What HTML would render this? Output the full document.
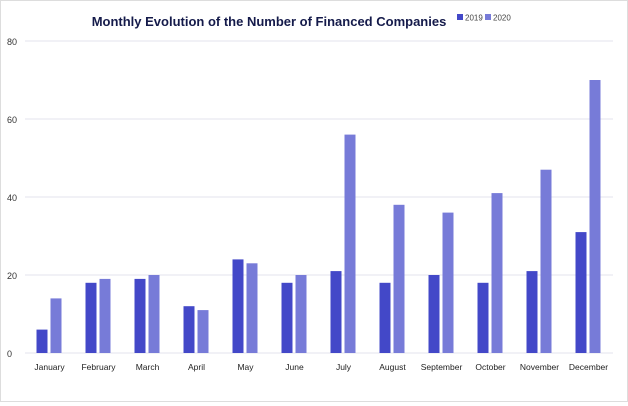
<!DOCTYPE html>
<html><head><meta charset="utf-8"><style>
body{margin:0;background:#fff;font-family:"Liberation Sans",sans-serif}
#c{position:absolute;left:0;top:0;width:626px;height:400px;border:1px solid #ddd;background:#fff}
</style></head><body>
<div id="c">
<svg id="s" width="626" height="400"></svg>
</div>
<script>
const months=["January","February","March","April","May","June","July","August","September","October","November","December"];
const s2019=[6,18,19,12,24,18,21,18,20,18,21,31];
const s2020=[14,19,20,11,23,20,56,38,36,41,47,70];
const yTicks=[0,20,40,60,80];
const NS="http://www.w3.org/2000/svg";
const svg=document.getElementById('s');
const x0=24,x1=612,y0=352,y1=40;
const band=(x1-x0)/months.length;
const y=v=>y0-(v/80)*(y0-y1);
function mk(t,a,p){const e=document.createElementNS(NS,t);for(const k in a)e.setAttribute(k,a[k]);(p||svg).appendChild(e);return e;}
yTicks.forEach(t=>{
 const l=mk('line',{x1:x0,x2:x1,y1:y(t),y2:y(t),stroke:'#e3e3ec','stroke-width':1});
 
 
 const tx=mk('text',{x:6,y:y(t)+4,'font-size':9,fill:'#333'});tx.textContent=t;
 
 
});
months.forEach((m,i)=>{
 const c=x0+band*(i+0.5);
 const a=mk('rect',{x:c-13,y:y(s2019[i]),width:11,height:y0-y(s2019[i]),fill:'#4348c8'});
 
 
 const b=mk('rect',{x:c+1,y:y(s2020[i]),width:11,height:y0-y(s2020[i]),fill:'#777bd8'});
 
 
 const t=mk('text',{x:c,y:369,'font-size':8.5,fill:'#222','text-anchor':'middle'});t.textContent=m;
 
 
});
const ti=mk('text',{x:268,y:25,'font-size':13,'font-weight':'bold',fill:'#141a4a','text-anchor':'middle'});
ti.textContent='Monthly Evolution of the Number of Financed Companies';


[["2019",'#4348c8',456],["2020",'#777bd8',484]].forEach(([n,c,x])=>{
 const r=mk('rect',{x:x,y:13,width:6,height:6,fill:c});
 
 
 const t=mk('text',{x:x+8,y:19.5,'font-size':8,fill:'#444'});t.textContent=n;
 
 
});
</script>
</body></html>
